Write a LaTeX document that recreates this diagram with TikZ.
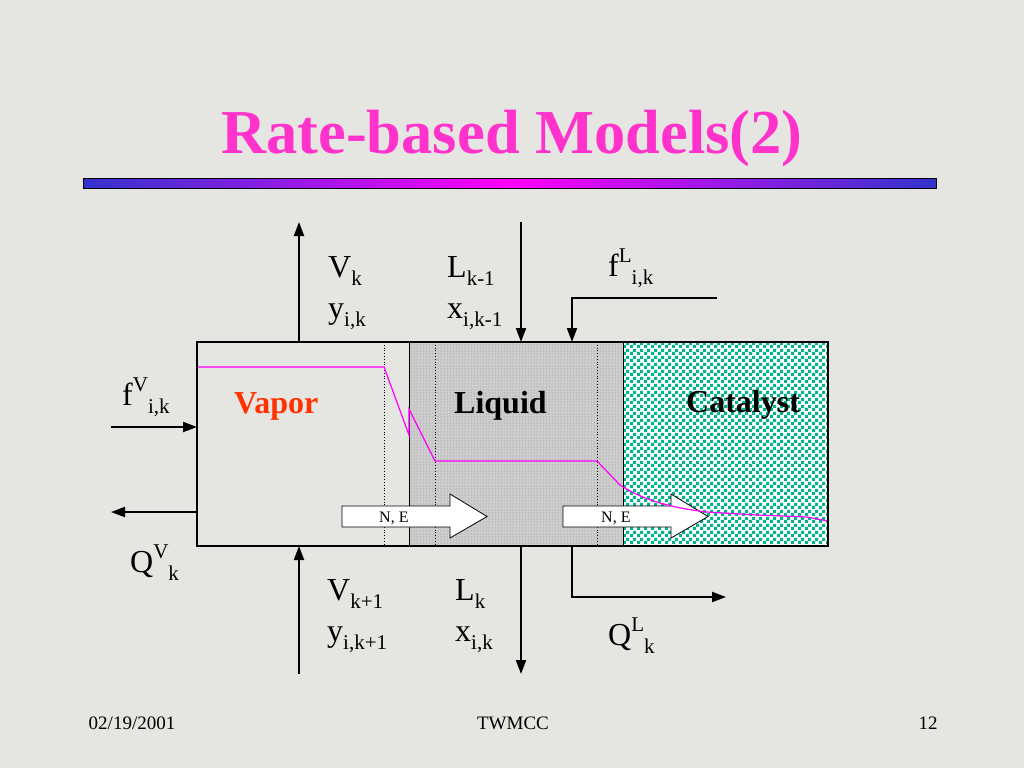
\documentclass[tikz,border=0pt]{standalone}
\usepackage{fontspec}
\setmainfont{Liberation Serif}
\usetikzlibrary{arrows.meta,patterns}
\definecolor{bgcol}{RGB}{229,229,226}
\definecolor{titlecol}{RGB}{255,51,204}
\definecolor{barblue}{RGB}{51,51,204}
\definecolor{barmag}{RGB}{255,0,255}
\definecolor{vapcol}{RGB}{255,51,0}
\definecolor{liqcol}{RGB}{206,206,206}
\definecolor{catgreen}{RGB}{0,180,140}
\definecolor{profcol}{RGB}{255,0,255}
\pgfdeclarepatternformonly{catcheck}{\pgfpointorigin}{\pgfqpoint{7pt}{7pt}}{\pgfqpoint{7pt}{7pt}}{%
  \pgfpathrectangle{\pgfpointorigin}{\pgfqpoint{3.5pt}{3.5pt}}%
  \pgfpathrectangle{\pgfqpoint{3.5pt}{3.5pt}}{\pgfqpoint{3.5pt}{3.5pt}}%
  \pgfusepath{fill}}
\newcommand\mysup[1]{\raisebox{14pt}{\fontsize{21}{24}\selectfont #1}}
\newcommand\mysub[1]{\raisebox{-8pt}{\fontsize{21}{24}\selectfont #1}}
\begin{document}
\begin{tikzpicture}[x=1pt,y=-1pt,
  lbl/.style={anchor=base west,inner sep=0pt,font=\fontsize{32}{38}\selectfont},
  region/.style={anchor=base west,inner sep=0pt,font=\fontsize{32}{38}\selectfont\bfseries},
  foot/.style={anchor=base,inner sep=0pt,font=\fontsize{19}{22}\selectfont},
  flow/.style={line width=2pt,-{Triangle[length=14pt,width=10pt]}},
  divider/.style={line width=0.8pt,dotted},
  blockarrow/.style={fill=white,draw=black,line width=0.8pt},
  netext/.style={anchor=base west,inner sep=0pt,font=\fontsize{16}{18}\selectfont}]
\useasboundingbox (0,0) rectangle (1024,768);
\fill[bgcol] (0,0) rectangle (1024,768);
% title
\node[anchor=base,inner sep=0pt,text=titlecol,font=\fontsize{62.5}{72}\selectfont\bfseries] (title) at (512,153) {Rate-based Models(2)};
\shade[left color=barblue,right color=barblue,middle color=barmag] (83,178) rectangle (936,188);
\draw[line width=0.8pt] (83,178) rectangle (936,188);
% regions
\fill[liqcol] (409,342) rectangle (623,546);
\fill[pattern=dots,pattern color=gray] (409,342) rectangle (623,546);
\fill[white] (623,342) rectangle (828,546);
\fill[pattern=catcheck,pattern color=catgreen] (623,342) rectangle (828,546);
\draw[line width=0.8pt] (409,342) -- (409,546);
\draw[line width=0.8pt] (623,342) -- (623,546);
\draw[divider] (384,342) -- (384,546);
\draw[divider] (435,342) -- (435,546);
\draw[divider] (597,342) -- (597,546);
% region labels
\node[region,text=vapcol] (vapor) at (234,413) {Vapor};
\node[region] (liquid) at (454,413) {Liquid};
\node[region] (catalyst) at (686,412) {Catalyst};
% N,E block arrows
\draw[blockarrow] (342,506) -- (450,506) -- (450,494) -- (487,516.5) -- (450,538) -- (450,527) -- (342,527) -- cycle;
\node[netext] (ne1) at (379,522) {N, E};
\draw[blockarrow] (563,506) -- (671,506) -- (671,494) -- (708,516.5) -- (671,538) -- (671,527) -- (563,527) -- cycle;
\node[netext] (ne2) at (601,522) {N, E};
% profile
\draw[profcol,line width=1.2pt] (197,367) -- (384,367) -- (409,435) -- (409,409) -- (435,461) -- (597,461) -- (620,485)
  .. controls (640,498) and (665,507) .. (707,512) -- (757,515) -- (807,517) -- (828,521);
% box outline
\draw[line width=2pt] (197,342) rectangle (828,546);
% stream coordinates
\coordinate (vtopS) at (299,342);
\coordinate (vtopE) at (299,222);
\coordinate (ltopS) at (521,222);
\coordinate (ltopE) at (521,342);
\coordinate (flS) at (717,298);
\coordinate (flM) at (572,298);
\coordinate (flE) at (572,342);
\coordinate (fvS) at (111,427);
\coordinate (fvE) at (197,427);
\coordinate (qvS) at (197,512);
\coordinate (qvE) at (111,512);
\coordinate (vbotS) at (299,674);
\coordinate (vbotE) at (299,546);
\coordinate (lbotS) at (521,546);
\coordinate (lbotE) at (521,674);
\coordinate (qlS) at (572,546);
\coordinate (qlM) at (572,597);
\coordinate (qlE) at (726,597);
% streams
\draw[flow] (vtopS) -- (vtopE);
\draw[flow] (ltopS) -- (ltopE);
\draw[flow] (flS) -- (flM) -- (flE);
\draw[flow] (fvS) -- (fvE);
\draw[flow] (qvS) -- (qvE);
\draw[flow] (vbotS) -- (vbotE);
\draw[flow] (lbotS) -- (lbotE);
\draw[flow] (qlS) -- (qlM) -- (qlE);
% stream labels
\node[lbl] (vk) at (328,277) {V\mysub{k}};
\node[lbl] (yik) at (328,318) {y\mysub{i,k}};
\node[lbl] (lkm) at (447,277) {L\mysub{k-1}};
\node[lbl] (xikm) at (447,318) {x\mysub{i,k-1}};
\node[lbl] (fl) at (608,276) {f\mysup{L}\mysub{i,k}};
\node[lbl] (fv) at (122,405) {f\mysup{V}\mysub{i,k}};
\node[lbl] (qv) at (130,572) {Q\mysup{V}\mysub{k}};
\node[lbl] (vkp) at (327,600) {V\mysub{k+1}};
\node[lbl] (yikp) at (327,641) {y\mysub{i,k+1}};
\node[lbl] (lk) at (455,600) {L\mysub{k}};
\node[lbl] (xik) at (455,641) {x\mysub{i,k}};
\node[lbl] (ql) at (608,645) {Q\mysup{L}\mysub{k}};
% footer
\node[foot] (date) at (132,729) {02/19/2001};
\node[foot] (org) at (513,729) {TWMCC};
\node[foot] (page) at (928,729) {12};
\end{tikzpicture}
\end{document}
